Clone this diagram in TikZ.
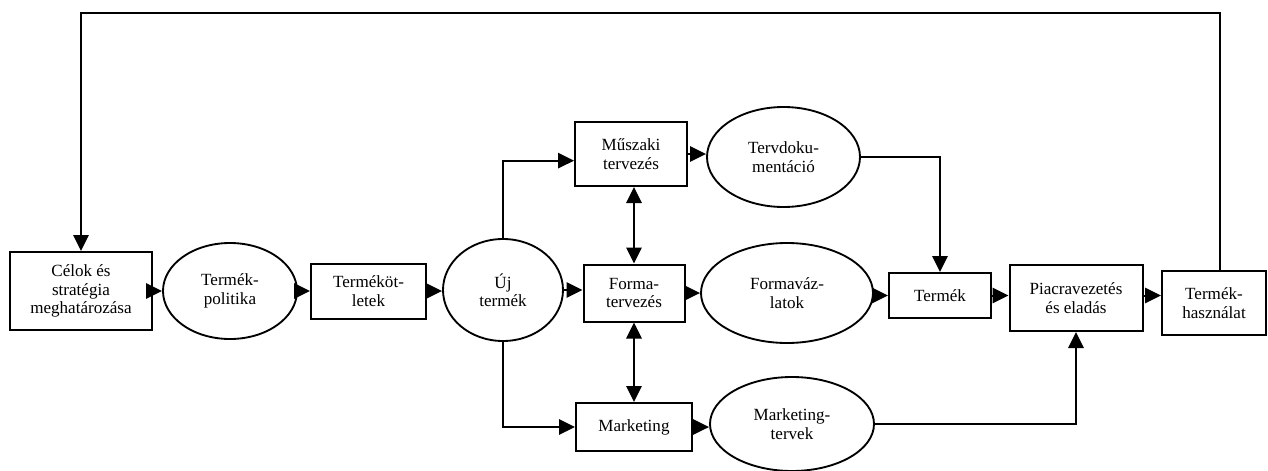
\documentclass[tikz,border=0pt]{standalone}
\usepackage{fontspec}
\setmainfont{Liberation Serif}
\usetikzlibrary{shapes.geometric,arrows.meta}
\begin{document}
\begin{tikzpicture}[x=0.75pt,y=-0.75pt,
  every node/.style={font=\fontsize{12.8pt}{13.8pt}\selectfont, align=center, inner sep=0pt},
  boxnode/.style={draw, line width=1.5pt, rectangle},
  ovalnode/.style={draw, line width=1.4pt, ellipse},
  link/.style={line width=1.5pt, -{Triangle[length=12pt,width=11.5pt]}},
  twoway/.style={line width=1.5pt, {Triangle[length=12pt,width=11.5pt]}-{Triangle[length=12pt,width=11.5pt]}}
]
\useasboundingbox (0,0) rectangle (1268,471);

% main row
\node[boxnode, minimum width=106.5pt, minimum height=58.5pt] (celok) at (81,291) {Célok és\\stratégia\\meghatározása};
\node[ovalnode, minimum width=100.5pt, minimum height=72pt] (politika) at (230,291) {Termék-\\politika};
\node[boxnode, minimum width=86.25pt, minimum height=41.25pt] (otletek) at (368.5,291) {Terméköt-\\letek};
\node[ovalnode, minimum width=90pt, minimum height=76.5pt] (uj) at (503,290) {Új\\termék};
\node[boxnode, minimum width=75.75pt, minimum height=42.75pt] (forma) at (634,293) {Forma-\\tervezés};
\node[ovalnode, minimum width=129pt, minimum height=75pt] (vazlat) at (787,293) {Formaváz-\\latok};
\node[boxnode, minimum width=76.5pt, minimum height=33.75pt] (termek) at (940,295.5) {Termék};
\node[boxnode, minimum width=99.75pt, minimum height=49.5pt] (piac) at (1076,298) {Piacravezetés\\és eladás};
\node[boxnode, minimum width=78pt, minimum height=48pt] (hasznalat) at (1214,303) {Termék-\\használat};

% upper row
\node[boxnode, minimum width=84pt, minimum height=48pt] (muszaki) at (631,154) {Műszaki\\tervezés};
\node[ovalnode, minimum width=114.75pt, minimum height=75pt] (tervdok) at (783.5,157) {Tervdoku-\\mentáció};

% lower row
\node[boxnode, minimum width=87pt, minimum height=36pt] (marketing) at (634,427) {Marketing};
\node[ovalnode, minimum width=123pt, minimum height=70.5pt] (mtervek) at (792,424) {Marketing-\\tervek};

% feedback loop along the top
\coordinate (loop) at (650,13);
\draw[link] ([xshift=4.5pt]hasznalat.north) |- (loop) -| (celok.north);

% main flow
\draw[link] (celok.east) -- (politika.west);
\draw[link] (politika.east) -- (politika.east -| otletek.west);
\draw[link] (otletek.east) -- (otletek.east -| uj.west);
\draw[link] (uj.east) -- (uj.east -| forma.west);
\draw[link] (forma.east) -- (forma.east -| vazlat.west);
\draw[link] (vazlat.east |- termek.west) -- (termek.west);
\draw[link] (termek.east) -- (termek.east -| piac.west);
\draw[link] (piac.east |- termek.east) -- (hasznalat.west |- termek.east);

% branches from the new product
\draw[link] (uj.north) |- ([yshift=-5pt]muszaki.west);
\draw[link] (uj.south) |- (marketing.west);

% design interactions
\draw[twoway] (forma.north |- muszaki.south) -- (forma.north);
\draw[twoway] (forma.south -| marketing.north) -- (marketing.north);

% documentation and marketing plans
\draw[link] (muszaki.east) -- (muszaki.east -| tervdok.west);
\draw[link] (tervdok.east) -| (termek.north);
\draw[link] (marketing.east) -- (marketing.east -| mtervek.west);
\draw[link] (mtervek.east) -| (piac.south);
\end{tikzpicture}
\end{document}
